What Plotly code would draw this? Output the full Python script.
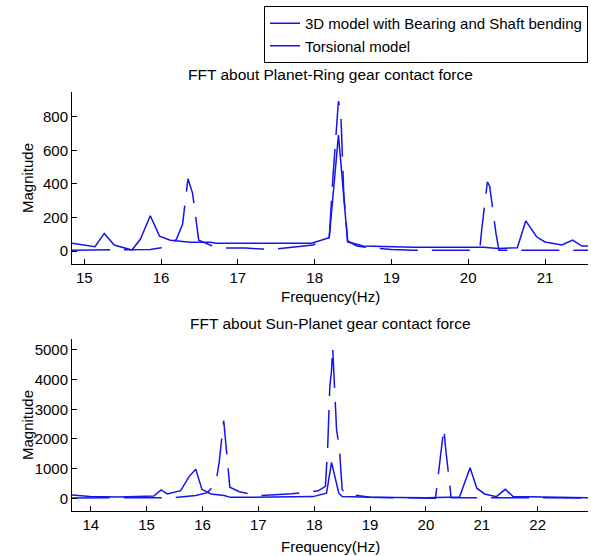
import plotly.graph_objects as go

# ---- Top panel: Planet-Ring gear contact force ----
top_3d_freq = [14.84, 15.14, 15.26, 15.39, 15.62, 15.73, 15.86, 15.98, 16.12, 16.38, 16.64, 16.72,
               17.96, 18.19, 18.31, 18.43, 18.63, 19.0, 19.3, 20.2, 20.39, 20.64, 20.75, 20.89,
               21.0, 21.22, 21.36, 21.48, 21.56]
top_3d_mag = [46, 26, 105, 36, 6, 70, 210, 89, 65, 52, 52, 46,
              46, 79, 690, 55, 30, 26, 22, 22, 16, 20, 180, 85,
              54, 36, 65, 30, 30]

top_tor_freq = [14.84, 15.62, 15.86, 16.0, 16.12, 16.2, 16.28, 16.35, 16.41, 16.49, 16.66, 16.86,
                17.1, 17.3, 17.5, 17.98, 18.19, 18.24, 18.28, 18.31, 18.34, 18.38, 18.43, 18.55,
                18.7, 19.0, 19.3, 20.1, 20.15, 20.18, 20.25, 20.28, 20.36, 20.4, 21.56]
top_tor_mag = [5, 6, 10, 20, 40, 70, 160, 430, 345, 65, 32, 18,
               18, 12, 12, 36, 80, 452, 730, 893, 830, 333, 60, 30,
               20, 10, 5, 5, 10, 145, 412, 385, 110, 5, 5]

# ---- Bottom panel: Sun-Planet gear contact force ----
bot_3d_freq = [13.66, 13.99, 14.5, 15.13, 15.26, 15.37, 15.61, 15.76, 15.88, 15.99, 16.15, 16.39,
               16.5, 17.0, 17.98, 18.22, 18.31, 18.44, 18.5, 19.0, 20.0, 20.6, 20.79, 20.91,
               21.05, 21.26, 21.42, 21.56, 22.9]
bot_3d_mag = [110, 55, 40, 77, 280, 145, 256, 730, 975, 300, 145, 90,
              30, 30, 55, 170, 1210, 170, 55, 30, 20, 40, 1030, 340,
              145, 55, 300, 55, 20]

bot_tor_freq = [13.66, 14.5, 15.5, 15.88, 16.09, 16.24, 16.3, 16.38, 16.41, 16.44, 16.49, 16.66,
                16.72, 17.0, 17.6, 18.07, 18.2, 18.24, 18.28, 18.31, 18.33, 18.36, 18.4, 18.45,
                18.5, 18.55, 19.0, 20.17, 20.23, 20.27, 20.32, 20.35, 20.38, 20.45, 22.9]
bot_tor_mag = [10, 10, 20, 90, 190, 500, 1230, 2620, 1990, 1460, 370, 220,
               200, 90, 150, 250, 400, 1680, 3800, 4300, 5100, 3800, 2300, 1700,
               300, 150, 30, 0, 1010, 1560, 2360, 1720, 1180, 20, 10]

series_names = ["3D model with Bearing and Shaft bending", "Torsional model"]
panel_titles = ["FFT about Planet-Ring gear contact force", "FFT about Sun-Planet gear contact force"]

BLUE = "rgb(20,20,235)"
FONT = "Liberation Sans, Arial, sans-serif"
DASH = "38px,14px"

fig = go.Figure()
fig.add_trace(go.Scatter(x=top_3d_freq, y=top_3d_mag, mode="lines", name=series_names[0],
                         line=dict(color=BLUE, width=1.5), xaxis="x", yaxis="y"))
fig.add_trace(go.Scatter(x=top_tor_freq, y=top_tor_mag, mode="lines", name=series_names[1],
                         line=dict(color=BLUE, width=1.5, dash=DASH), xaxis="x", yaxis="y"))
fig.add_trace(go.Scatter(x=bot_3d_freq, y=bot_3d_mag, mode="lines", showlegend=False,
                         line=dict(color=BLUE, width=1.5), xaxis="x2", yaxis="y2"))
fig.add_trace(go.Scatter(x=bot_tor_freq, y=bot_tor_mag, mode="lines", showlegend=False,
                         line=dict(color=BLUE, width=1.5, dash=DASH), xaxis="x2", yaxis="y2"))

axis_common = dict(showgrid=False, zeroline=False, showline=True, linecolor="black", linewidth=1,
                   ticks="inside", ticklen=5, tickcolor="black", automargin=False,
                   tickfont=dict(family=FONT, size=15, color="black"))

W, H, L, R, T, B = 591, 556, 72, 3, 92, 45
ph = H - T - B
pw = W - L - R
top_dom = [(H - B - 264) / ph, 1.0]
bot_dom = [0.0, (H - B - 339) / ph]


def py(pix):
    return (H - B - pix) / ph


def px(pix):
    return (pix - L) / pw


fig.update_layout(
    width=W, height=H,
    margin=dict(l=L, r=R, t=T, b=B, autoexpand=False),
    paper_bgcolor="white", plot_bgcolor="white",
    font=dict(family=FONT, size=15, color="black"),
    xaxis=dict(axis_common, domain=[0, 1], range=[14.84, 21.56], tickvals=[15, 16, 17, 18, 19, 20, 21],
               anchor="y"),
    yaxis=dict(axis_common, domain=top_dom, range=[-77, 947], tickvals=[0, 200, 400, 600, 800],
               anchor="x"),
    xaxis2=dict(axis_common, domain=[0, 1], range=[13.665, 22.9], tickvals=list(range(14, 23)),
                anchor="y2"),
    yaxis2=dict(axis_common, domain=bot_dom, range=[-430, 5370], tickvals=[0, 1000, 2000, 3000, 4000, 5000],
                anchor="x2"),
    legend=dict(x=1.0, xanchor="right", y=py(6), yanchor="top",
                bgcolor="white", bordercolor="black", borderwidth=1, itemwidth=30,
                font=dict(family=FONT, size=15, color="black"), tracegroupgap=0),
    showlegend=True,
    annotations=[
        dict(text=panel_titles[0], x=0.5, xref="paper", y=py(75), yref="paper",
             showarrow=False, xanchor="center", yanchor="middle", font=dict(size=15.5)),
        dict(text=panel_titles[1], x=0.5, xref="paper", y=py(323), yref="paper",
             showarrow=False, xanchor="center", yanchor="middle", font=dict(size=15.5)),
        dict(text="Frequency(Hz)", x=0.5, xref="paper", y=py(296), yref="paper",
             showarrow=False, xanchor="center", yanchor="middle", font=dict(size=15)),
        dict(text="Frequency(Hz)", x=0.5, xref="paper", y=py(546), yref="paper",
             showarrow=False, xanchor="center", yanchor="middle", font=dict(size=15)),
        dict(text="Magnitude", x=px(27), xref="paper", y=py(178), yref="paper", textangle=-90,
             showarrow=False, xanchor="center", yanchor="middle", font=dict(size=15)),
        dict(text="Magnitude", x=px(27), xref="paper", y=py(425), yref="paper", textangle=-90,
             showarrow=False, xanchor="center", yanchor="middle", font=dict(size=15)),
    ],
)

fig.write_html("out.html", config={"displayModeBar": False},
               post_script="document.body.style.margin='0';")
